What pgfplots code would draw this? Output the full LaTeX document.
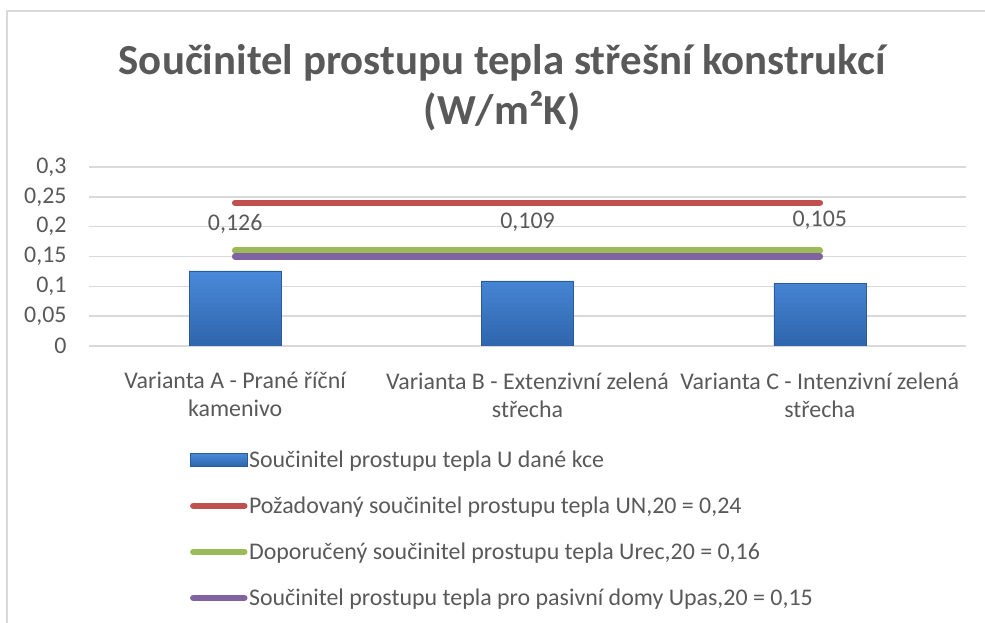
\documentclass[border=0pt]{standalone}
\usepackage{fontspec}
\setmainfont{Carlito}
\usepackage{pgfplots}
\pgfplotsset{compat=1.18}
\definecolor{txt}{HTML}{595959}
\definecolor{gridc}{HTML}{D9D9D9}
\definecolor{bartop}{HTML}{4A8ADA}
\definecolor{barbot}{HTML}{2F65AC}
\definecolor{bardark}{HTML}{2A5A99}
\definecolor{lred}{HTML}{C0504D}
\definecolor{lgreen}{HTML}{9BBB59}
\definecolor{lpurple}{HTML}{8064A2}
\begin{document}
\begin{tikzpicture}
\path[use as bounding box] (0bp,0bp) rectangle (985bp,623bp);
\draw[gridc, line width=2bp] (7bp,-5bp) -- (7bp,612bp) -- (990bp,612bp);
\node[font=\bfseries\fontsize{43}{50}\selectfont, text=txt, align=center] at (502bp,535bp)
  {Součinitel prostupu tepla střešní konstrukcí\\(W/m²K)};
\begin{axis}[
  at={(89bp,277bp)}, anchor=south west,
  scale only axis, width=877bp, height=179bp,
  xmin=-0.5, xmax=2.5, ymin=0, ymax=0.3,
  xtick={0,1,2},
  xticklabels={{Varianta A - Prané říční\\kamenivo},{Varianta B - Extenzivní zelená\\střecha},{Varianta C - Intenzivní zelená\\střecha}},
  xticklabel style={align=center, font=\fontsize{24}{28}\selectfont, text=txt, yshift=-23bp},
  ytick={0,0.05,0.1,0.15,0.2,0.25,0.3},
  yticklabels={0,{0,05},{0,1},{0,15},{0,2},{0,25},{0,3}},
  scaled y ticks=false,
  yticklabel style={font=\fontsize{24}{29}\selectfont, text=txt, xshift=-19bp},
  ymajorgrids, grid style={gridc, line width=1.5bp},
  axis line style={draw=none}, major tick length=0pt,
  legend cell align=left,
  legend style={draw=none, fill=none, inner sep=0pt, at={(axis description cs:0.115,-0.575)}, anchor=north west,
    font=\fontsize{24}{29}\selectfont, text=txt, row sep=25bp, nodes={inner sep=1.5bp}},
]
\addplot[ybar, bar width=0.315, bar shift=0pt, top color=bartop, bottom color=barbot, draw=bardark,
  legend image code/.code={\draw[top color=bartop, bottom color=barbot, draw=bardark] (0bp,-6.5bp) rectangle (57bp,6.5bp);}]
  coordinates {(0,0.126) (1,0.109) (2,0.105)};
\addlegendentry{Součinitel prostupu tepla U dané kce}
\addplot[lred, line width=6.5bp, line cap=round,
  legend image code/.code={\draw[lred, line width=6.5bp, line cap=round] (3bp,0bp) -- (54bp,0bp);}]
  coordinates {(0,0.24) (2,0.24)};
\addlegendentry{Požadovaný součinitel prostupu tepla UN,20 = 0,24}
\addplot[lgreen, line width=6.5bp, line cap=round,
  legend image code/.code={\draw[lgreen, line width=6.5bp, line cap=round] (3bp,0bp) -- (54bp,0bp);}]
  coordinates {(0,0.16) (2,0.16)};
\addlegendentry{Doporučený součinitel prostupu tepla Urec,20 = 0,16}
\addplot[lpurple, line width=6.5bp, line cap=round,
  legend image code/.code={\draw[lpurple, line width=6.5bp, line cap=round] (3bp,0bp) -- (54bp,0bp);}]
  coordinates {(0,0.15) (2,0.15)};
\addlegendentry{Součinitel prostupu tepla pro pasivní domy Upas,20 = 0,15}
\node[font=\fontsize{24}{29}\selectfont, text=txt] at (axis cs:0,0.2045) {0,126};
\node[font=\fontsize{24}{29}\selectfont, text=txt] at (axis cs:1,0.207) {0,109};
\node[font=\fontsize{24}{29}\selectfont, text=txt] at (axis cs:2,0.21) {0,105};
\end{axis}
\end{tikzpicture}
\end{document}
